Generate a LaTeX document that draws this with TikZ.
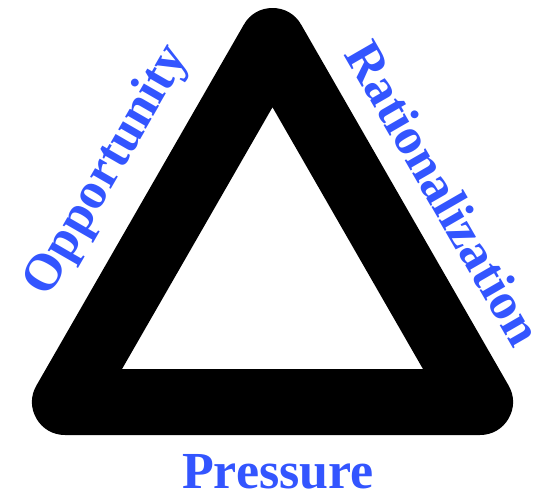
\documentclass[tikz,border=0pt]{standalone}
\usepackage{fontspec}
\setmainfont{Liberation Serif}
\definecolor{lblue}{RGB}{51,85,255}
\begin{document}
\begin{tikzpicture}[x=1pt,y=-1pt,
  lbl/.style={text=lblue,font=\fontsize{52}{52}\selectfont\bfseries,inner sep=0pt},
  tri/.style={draw=black,line width=66pt,line join=round}]
\useasboundingbox (0,0) rectangle (550,498);
\coordinate (t) at (272.5,41);
\coordinate (l) at (65,402);
\coordinate (r) at (480,402);
\draw[tri] (t) -- (l) -- (r) -- cycle;
\node[lbl,anchor=base] (p) at (278,488) {Pressure};
\node[lbl,rotate=60] (o) at (108,171) {Opportunity};
\node[lbl,rotate=-60] (ra) at (444,193) {Rationalization};
\end{tikzpicture}
\end{document}
